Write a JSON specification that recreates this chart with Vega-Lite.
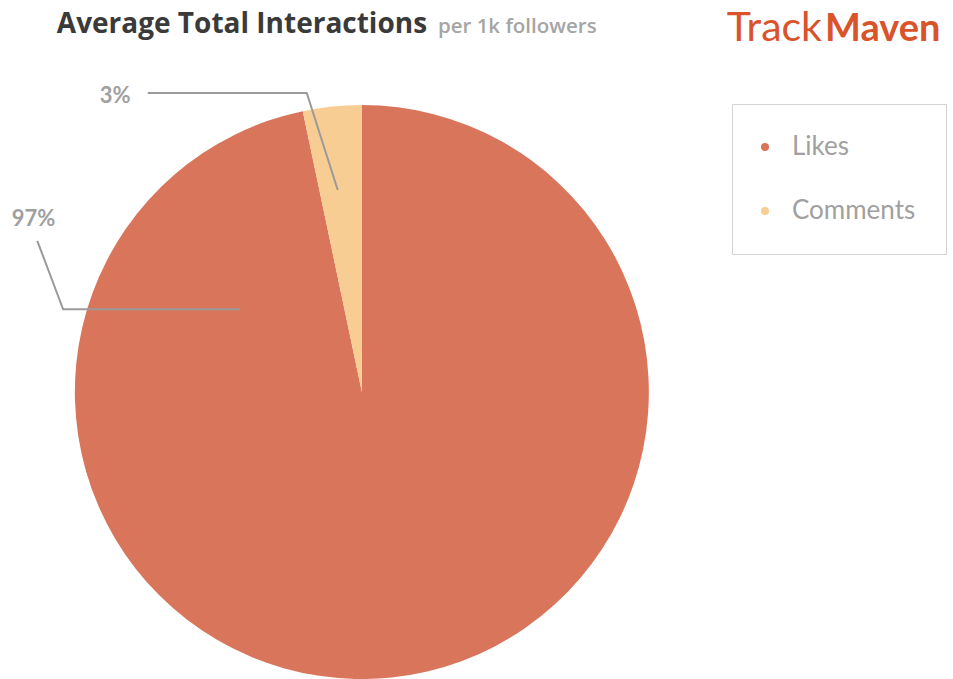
{
  "$schema": "https://vega.github.io/schema/vega-lite/v6.json",
  "width": 953,
  "height": 679,
  "autosize": "none",
  "padding": 0,
  "background": "white",
  "view": {"stroke": null},
  "config": {"font": "Lato"},
  "datasets": {
    "slices": [
      {"type": "Likes", "value": 96.7, "idx": 1},
      {"type": "Comments", "value": 3.3, "idx": 2}
    ],
    "leaders": [
      {"label": "3%", "step": 1, "x": -74.6, "y": 104.2},
      {"label": "3%", "step": 2, "x": -19.2, "y": 104.2},
      {"label": "3%", "step": 3, "x": -8.4, "y": 70.4},
      {"label": "97%", "step": 1, "x": -113.1, "y": 52.7},
      {"label": "97%", "step": 2, "x": -104.1, "y": 28.8},
      {"label": "97%", "step": 3, "x": -42.5, "y": 28.8}
    ],
    "labels": [
      {"label": "3%", "x": -91.3, "y": 103.1},
      {"label": "97%", "x": -122.0, "y": 60.3}
    ],
    "one": [{}]
  },
  "layer": [
    {
      "data": {"name": "slices"},
      "mark": {"type": "arc", "outerRadius": 287},
      "encoding": {
        "x": {"datum": 0, "type": "quantitative", "scale": {"domain": [-126.1, 206.0], "nice": false, "zero": false}, "axis": null},
        "y": {"datum": 0, "type": "quantitative", "scale": {"domain": [-100, 136.6], "nice": false, "zero": false}, "axis": null},
        "theta": {"field": "value", "type": "quantitative", "stack": true},
        "order": {"field": "idx", "type": "quantitative"},
        "color": {
          "field": "type",
          "type": "nominal",
          "scale": {"domain": ["Likes", "Comments"], "range": ["#d9755b", "#f8cd94"]},
          "legend": {
            "title": null,
            "orient": "none",
            "legendX": 732,
            "legendY": 104,
            "padding": 30,
            "strokeColor": "#d3d3d3",
            "symbolType": "circle",
            "symbolSize": 64,
            "symbolStrokeWidth": 0,
            "symbolOffset": -10,
            "labelOffset": 14,
            "labelFontSize": 26,
            "labelColor": "#a0a0a0",
            "labelFont": "Lato",
            "rowPadding": 38
          }
        }
      }
    },
    {
      "data": {"name": "leaders"},
      "mark": {"type": "line", "color": "#9a9a9a", "strokeWidth": 2},
      "encoding": {
        "x": {"field": "x", "type": "quantitative"},
        "y": {"field": "y", "type": "quantitative"},
        "detail": {"field": "label"},
        "order": {"field": "step", "type": "quantitative"}
      }
    },
    {
      "data": {"name": "labels"},
      "mark": {"type": "text", "align": "left", "baseline": "middle", "fontSize": 22, "fontWeight": "bold", "color": "#a0a0a0"},
      "encoding": {
        "x": {"field": "x", "type": "quantitative"},
        "y": {"field": "y", "type": "quantitative"},
        "text": {"field": "label"}
      }
    },
    {
      "data": {"name": "one"},
      "mark": {"type": "text", "align": "left", "baseline": "alphabetic", "font": "Open Sans", "fontSize": 28, "fontWeight": "bold", "color": "#3a3a3a"},
      "encoding": {
        "x": {"datum": -106.3, "type": "quantitative"},
        "y": {"datum": 125.1, "type": "quantitative"},
        "text": {"value": "Average Total Interactions"}
      }
    },
    {
      "data": {"name": "one"},
      "mark": {"type": "text", "align": "left", "baseline": "alphabetic", "font": "Open Sans", "fontSize": 20.5, "fontWeight": 600, "color": "#a5a5a5"},
      "encoding": {
        "x": {"datum": 26.5, "type": "quantitative"},
        "y": {"datum": 125.1, "type": "quantitative"},
        "text": {"value": "per 1k followers"}
      }
    },
    {
      "data": {"name": "one"},
      "mark": {"type": "text", "align": "left", "baseline": "alphabetic", "fontSize": 41, "color": "#d9532b"},
      "encoding": {
        "x": {"datum": 127.2, "type": "quantitative"},
        "y": {"datum": 122.3, "type": "quantitative"},
        "text": {"value": "Track"}
      }
    },
    {
      "data": {"name": "one"},
      "mark": {"type": "text", "align": "left", "baseline": "alphabetic", "fontSize": 38, "fontWeight": "bold", "color": "#d9532b"},
      "encoding": {
        "x": {"datum": 161.4, "type": "quantitative"},
        "y": {"datum": 122.3, "type": "quantitative"},
        "text": {"value": "Maven"}
      }
    }
  ]
}
